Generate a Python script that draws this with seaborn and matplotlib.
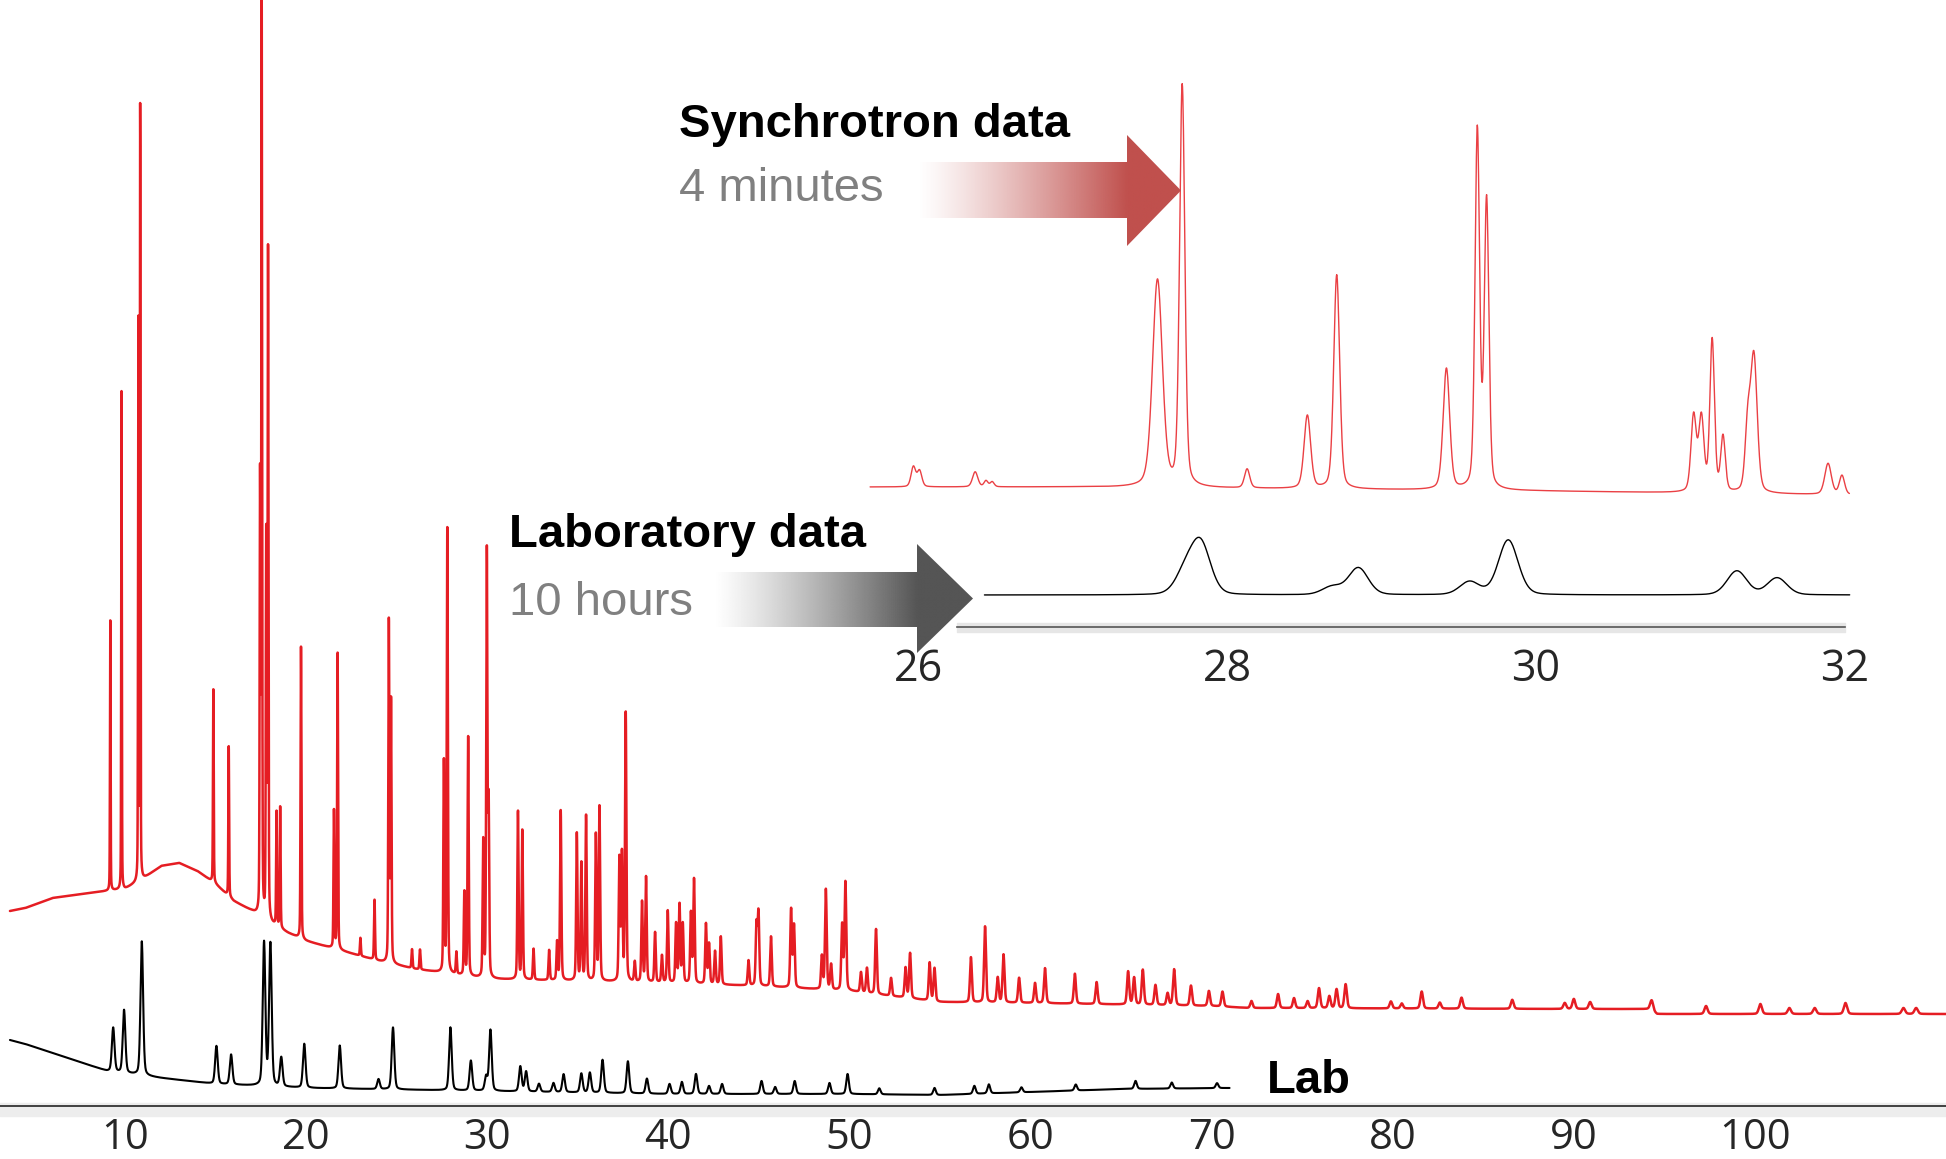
import numpy as np
import seaborn as sns
import matplotlib.pyplot as plt
from matplotlib.patches import Polygon
from matplotlib.colors import to_rgb
from matplotlib.ticker import FixedLocator

sns.set_style("white")
plt.rcParams['font.family'] = ['Liberation Sans', 'DejaVu Sans']

W, H = 1946, 1159

# Full synchrotron pattern (2theta, intensity a.u.): background knots + peaks.
sync_bg_x = [3.65, 4.5, 6, 8, 9, 10, 11, 12, 13, 14, 15, 16, 17, 18, 19, 20, 22, 24, 26, 28, 30,
             35, 40, 45, 50, 55, 60, 70, 72, 90, 94.2, 94.6, 110.55]
sync_bg_y = [195, 198, 208, 213, 215, 217, 227, 240, 243, 235, 222, 205, 195, 183, 173, 165, 155, 145, 137, 132, 127,
             125, 123, 120, 115, 104, 103, 100, 98, 97, 97, 92, 92]
sync_peak_x = [9.19, 9.81, 10.74, 10.84, 14.88, 15.73, 17.46, 17.55, 17.80, 17.90, 18.37, 18.57, 19.72,
               21.54, 21.74, 23.00, 23.78, 24.57, 24.69, 25.85, 26.29, 27.61, 27.80, 28.30, 28.74, 28.95,
               29.78, 29.98, 30.08, 31.70, 31.94, 32.56, 33.42, 33.86, 34.06, 34.95, 35.20, 35.46, 36.00,
               36.20, 37.30, 37.44, 37.65,
               38.15, 38.55, 38.77, 39.27, 39.65, 39.97, 40.43, 40.62, 40.80, 41.25, 41.42, 42.08, 42.25,
               42.58, 42.90, 44.43, 44.87, 44.98, 45.67, 46.78, 46.94, 48.48, 48.70, 48.99, 49.60, 49.78,
               50.64, 50.97, 51.47, 52.30, 53.10, 53.35, 54.43, 54.70, 56.71, 57.49, 58.19, 58.51, 59.37,
               60.25, 60.80, 62.45, 63.65, 65.39, 65.72, 66.20, 66.90, 67.57, 67.93, 68.86, 69.85, 70.60,
               72.20, 73.67, 74.55, 75.30, 75.93, 76.50, 76.90, 77.40, 79.90, 80.50, 81.60, 82.60, 83.80,
               86.60, 89.50, 90.00, 90.90, 94.30, 97.30, 100.30, 101.90, 103.30, 105.00, 108.20, 108.90]
sync_peak_h = [270, 498, 560, 776, 194, 150, 430, 910, 380, 670, 114, 121, 293,
               138, 297, 18, 60, 340, 260, 19, 20, 210, 445, 22, 83, 239,
               136, 425, 170, 168, 149, 31, 30, 38, 170, 147, 117, 165, 146,
               174, 122, 126, 268,
               20, 80, 105, 50, 27, 72, 59, 78, 59, 70, 104, 60, 40,
               33, 48, 25, 60, 72, 50, 78, 62, 33, 100, 25, 65, 108,
               20, 25, 65, 18, 30, 45, 38, 33, 45, 76, 25, 48, 25,
               20, 35, 30, 22, 33, 27, 35, 20, 12, 36, 20, 15, 15,
               7, 14, 10, 7, 20, 12, 19, 24, 7, 5, 17, 6, 11,
               9, 6, 10, 7, 10, 8, 10, 6, 6, 11, 6, 6]

# Full laboratory pattern.
lab_bg_x = [3.65, 4.5, 6, 7, 9, 12, 15, 20, 30, 40, 50, 55, 60, 65, 71]
lab_bg_y = [66, 62, 53, 47, 35, 28, 22, 18, 15, 12, 12, 11, 14, 17, 18]
lab_peak_x = [9.35, 9.95, 10.93, 15.05, 15.86, 17.68, 18.03, 18.63, 19.90, 21.86, 24.00, 24.80,
              27.97, 29.10, 29.94, 30.18, 31.83, 32.15, 32.86, 33.66, 34.22, 35.20, 35.67, 36.37,
              37.77, 38.82, 40.07, 40.75, 41.53, 42.25, 42.97, 45.15, 45.90, 46.98, 48.90, 49.90,
              51.65, 54.70, 56.90, 57.70, 59.50, 62.50, 65.80, 67.80, 70.30]
lab_peak_h = [44, 63, 134, 38, 30, 143, 142, 29, 44, 43, 10, 62,
              63, 30, 14, 61, 25, 20, 8, 9, 18, 19, 20, 33,
              32, 15, 10, 12, 20, 8, 10, 13, 7, 13, 11, 20,
              6, 7, 8, 9, 5, 6, 8, 6, 5]

# Zoomed region 26-32 deg.
ins_sync_bg_x = [25.69, 27, 28.5, 30, 31, 32.03]
ins_sync_bg_y = [140, 140, 138, 136, 134, 132]
ins_sync_x = [25.97, 26.01, 26.37, 26.44, 26.48, 27.55, 27.71, 28.13, 28.52, 28.71, 29.42,
              29.62, 29.68, 31.02, 31.07, 31.14, 31.21, 31.37, 31.41, 31.89, 31.98]
ins_sync_h = [20, 16, 15, 6, 5, 207, 401, 19, 73, 214, 121, 358, 287, 76, 74, 152, 55, 62, 136, 31, 19]
ins_sync_w = [0.035, 0.035, 0.04, 0.03, 0.03, 0.075, 0.04, 0.04, 0.05, 0.045, 0.05,
              0.035, 0.035, 0.04, 0.04, 0.035, 0.035, 0.04, 0.05, 0.05, 0.04]
ins_lab_bg_x = [26.43, 32.03]
ins_lab_bg_y = [32, 32]
ins_lab_x = [27.73, 27.83, 28.68, 28.85, 29.57, 29.82, 31.30, 31.56]
ins_lab_h = [22, 50, 8, 27, 13, 55, 24, 17]

main_ticks = [10, 20, 30, 40, 50, 60, 70, 80, 90, 100]
inset_ticks = [26, 28, 30, 32]

RED = '#e51d23'
RED_INSET = '#ea4044'


def pattern(grid, bg_x, bg_y, peak_x, peak_h, fwhm, eta):
    """Pseudo-Voigt peaks on top of a background line."""
    y = np.interp(grid, bg_x, bg_y)
    fwhm = np.broadcast_to(fwhm, (len(peak_x),))
    for c, h, w in zip(peak_x, peak_h, fwhm):
        d = ((grid - c) / w) ** 2
        y = y + h * (eta / (1 + 4 * d) + (1 - eta) * np.exp(-4 * np.log(2) * d))
    return y


def gradient_arrow(ax, x0, x1, tip, y0, y1, hy0, hy1, color):
    verts = [(x0, y0), (x1, y0), (x1, hy0), (tip, (hy0 + hy1) / 2),
             (x1, hy1), (x1, y1), (x0, y1)]
    poly = Polygon(verts, closed=True, facecolor='none', edgecolor='none')
    ax.add_patch(poly)
    xs = np.linspace(x0, tip, 600)
    img = np.zeros((1, xs.size, 4))
    img[..., :3] = to_rgb(color)
    img[..., 3] = np.clip((xs - x0) / (x1 - x0), 0, 1) ** 1.2
    im = ax.imshow(img, extent=[x0, tip, hy1, hy0], aspect='auto', interpolation='bilinear')
    im.set_clip_path(poly)


fig = plt.figure(figsize=(W / 100, H / 100), dpi=100)

# Main pattern; synchrotron peaks broaden with angle.
ax = fig.add_axes([0, 53 / H, 1, 1106 / H])
g_sync = np.arange(3.65, 110.55, 0.004)
g_lab = np.arange(3.65, 71.0, 0.01)
sync_fwhm = 0.04 + 0.0018 * (np.array(sync_peak_x) - 10).clip(0)
sns.lineplot(x=g_sync, y=pattern(g_sync, sync_bg_x, sync_bg_y, sync_peak_x, sync_peak_h, sync_fwhm, 0.3),
             ax=ax, color=RED, lw=1.8, estimator=None, sort=False, errorbar=None)
sns.lineplot(x=g_lab, y=pattern(g_lab, lab_bg_x, lab_bg_y, lab_peak_x, lab_peak_h, 0.17, 0.3),
             ax=ax, color='black', lw=1.5, estimator=None, sort=False, errorbar=None)
ax.set_xlim(3.10, 110.55)
ax.set_ylim(0, 1106)
ax.patch.set_alpha(0)
for s in ['top', 'left', 'right']:
    ax.spines[s].set_visible(False)
ax.spines['bottom'].set_color('#333333')
ax.spines['bottom'].set_linewidth(1.3)
ax.axhspan(-10, 3, color='#ededed', zorder=0, clip_on=False)
ax.set_yticks([])
ax.set_xticks(main_ticks)
ax.tick_params(axis='x', direction='out', length=7, width=1, color='#333333',
               labelsize=30, pad=1, labelfontfamily='Open Sans')
ax.set_xlabel('')
ax.set_ylabel('')

# Inset 26-32.
ins = fig.add_axes([856.2 / W, (H - 627) / H, 1004.3 / W, 567 / H])
g_ins = np.arange(25.69, 32.03, 0.002)
g_ins_lab = np.arange(26.43, 32.03, 0.01)
sns.lineplot(x=g_ins, y=pattern(g_ins, ins_sync_bg_x, ins_sync_bg_y, ins_sync_x, ins_sync_h, ins_sync_w, 0.3),
             ax=ins, color=RED_INSET, lw=1.0, estimator=None, sort=False, errorbar=None)
sns.lineplot(x=g_ins_lab, y=pattern(g_ins_lab, ins_lab_bg_x, ins_lab_bg_y, ins_lab_x, ins_lab_h, 0.15, 0.2),
             ax=ins, color='black', lw=1.0, estimator=None, sort=False, errorbar=None)
ins.set_xlim(25.6, 32.1)
ins.set_ylim(0, 567)
ins.patch.set_alpha(0)
for s in ['top', 'left', 'right']:
    ins.spines[s].set_visible(False)
ins.spines['bottom'].set_bounds(26.25, 32.0)
ins.spines['bottom'].set_color('#555555')
ins.spines['bottom'].set_linewidth(1.2)
ins.fill_between([26.25, 32.0], -5, 4, color='#e6e6e6', zorder=0, clip_on=False)
ins.set_yticks([])
ins.set_xticks(inset_ticks)
ins.xaxis.set_minor_locator(FixedLocator(np.arange(26 + 1 / 3, 32.01, 1 / 3)))
ins.tick_params(axis='x', which='major', length=0, labelsize=31, pad=15, labelfontfamily='Open Sans')
ins.tick_params(axis='x', which='minor', direction='out', length=5, width=1, color='#666666')
ins.set_xlabel('')
ins.set_ylabel('')

# Overlay for labels and arrows (figure pixels).
ov = fig.add_axes([0, 0, 1, 1], zorder=5)
ov.patch.set_alpha(0)
gradient_arrow(ov, 918, 1127, 1181, 162, 218, 135, 246, '#c0504d')
gradient_arrow(ov, 714, 917, 973, 572, 627, 544, 653, '#555555')
ov.set_xlim(0, W)
ov.set_ylim(H, 0)
ov.axis('off')

ov.text(679, 137, 'Synchrotron data', fontsize=34, fontweight='bold', color='black', va='baseline')
ov.text(679, 201, '4 minutes', fontsize=34, color='#808080', va='baseline')
ov.text(509, 547, 'Laboratory data', fontsize=34, fontweight='bold', color='black', va='baseline')
ov.text(509, 615, '10 hours', fontsize=34, color='#808080', va='baseline')
ov.text(1267, 1093, 'Lab', fontsize=34, fontweight='bold', color='black', va='baseline')

fig.savefig('out.png', dpi=100)
